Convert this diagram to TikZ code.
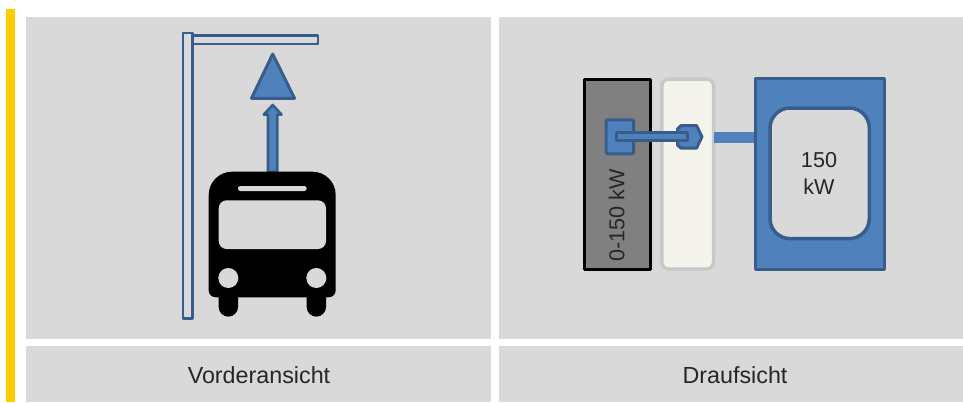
\documentclass[tikz,border=0pt]{standalone}
\usepackage{fontspec}
\setmainfont{Liberation Sans}
\definecolor{panel}{HTML}{D9D9D9}
\definecolor{bluefill}{HTML}{4F81BD}
\definecolor{blueline}{HTML}{385D8A}
\definecolor{cream}{HTML}{F4F4EC}
\definecolor{creamline}{HTML}{C8C8C8}
\definecolor{yellowbar}{HTML}{FFCC00}
\definecolor{ink}{HTML}{262626}
\tikzset{
  panelbox/.style={fill=panel,draw=none},
  blueshape/.style={fill=bluefill,draw=blueline,line width=3pt,line join=round},
  outlineshape/.style={fill=panel,draw=blueline,line width=2.6pt,line join=round},
  label21/.style={font=\fontsize{21.6}{27.3}\selectfont,text=ink,align=center,inner sep=0pt},
  caption/.style={font=\fontsize{23.3}{27}\selectfont,text=ink,inner sep=0pt},
}
\begin{document}
\begin{tikzpicture}[x=1pt,y=-1pt]
\useasboundingbox (0,0) rectangle (963,402);
\fill[white] (0,0) rectangle (963,402);
% frame
\fill[yellowbar] (6,9) rectangle (15,402);
\fill[panelbox] (26,17) rectangle (491,339);
\fill[panelbox] (26,346) rectangle (491,402);
\fill[panelbox] (499,17) rectangle (963,339);
\fill[panelbox] (499,346) rectangle (963,402);
\node[caption] (capA) at (259,375) {Vorderansicht};
\node[caption] (capB) at (735,375) {Draufsicht};
% gantry
\draw[outlineshape] (192.5,35.2) rectangle (318,43.8);
\draw[outlineshape] (182.8,32.8) rectangle (192.4,318.2);
% triangle and arrow
\draw[blueshape] (272.7,54) -- (294.5,98.3) -- (251.5,98.3) -- cycle;
\draw[blueshape,line width=2.6pt] (272.7,105) -- (281.5,114.6) -- (277.2,114.6) -- (277.2,172) -- (268,172) -- (268,114.6) -- (263.8,114.6) -- cycle;
% bus
\fill[black] (218.7,285) -- (218.7,307) arc[start angle=180,end angle=0,radius=9.65] -- (238,285) -- cycle;
\fill[black] (306.7,285) -- (306.7,307) arc[start angle=180,end angle=0,radius=9.65] -- (326,285) -- cycle;
\fill[black] (232,171.7) arc[start angle=-90,end angle=-180,radius=23.3] -- (208.7,290.3)
  arc[start angle=180,end angle=90,radius=7] -- (328.7,297.3)
  arc[start angle=90,end angle=0,radius=7] -- (335.7,195)
  arc[start angle=0,end angle=-90,radius=23.3] -- cycle;
\fill[panel,rounded corners=8pt] (218.7,200.3) rectangle (326,249);
\fill[panel,rounded corners=2.4pt] (238,186) rectangle (306.7,191);
\fill[panel] (228.3,278) circle[radius=10];
\fill[panel] (316.3,278) circle[radius=10];
% plan view
\draw[fill=black!50,draw=black,line width=3pt,line join=round] (584,79) rectangle (650,269);
\draw[fill=cream,draw=creamline,line width=3.5pt,rounded corners=7pt] (661.8,79) rectangle (713.5,269);
\fill[bluefill] (714,132) rectangle (755,143);
\draw[fill=bluefill,draw=blueline,line width=3pt,line join=round] (755.8,78.8) rectangle (884.2,269.2);
\draw[fill=panel,draw=blueline,line width=3.5pt,rounded corners=20pt] (770,108) rectangle (869.3,238.6);
\node[label21] (power) at (819,173.5) {150\\kW};
\node[label21,rotate=90] (range) at (616.7,215.7) {0-150 kW};
\draw[blueshape,rounded corners=1pt] (606.2,119.8) rectangle (633.5,153.8);
\draw[blueshape] (677.5,129) -- (681,125.5) -- (696.5,125.5) -- (702,136.8) -- (696.5,148.2) -- (681,148.2) -- (677.5,145) -- cycle;
\draw[blueshape] (616.2,132.2) rectangle (687.8,140.8);
\end{tikzpicture}
\end{document}
